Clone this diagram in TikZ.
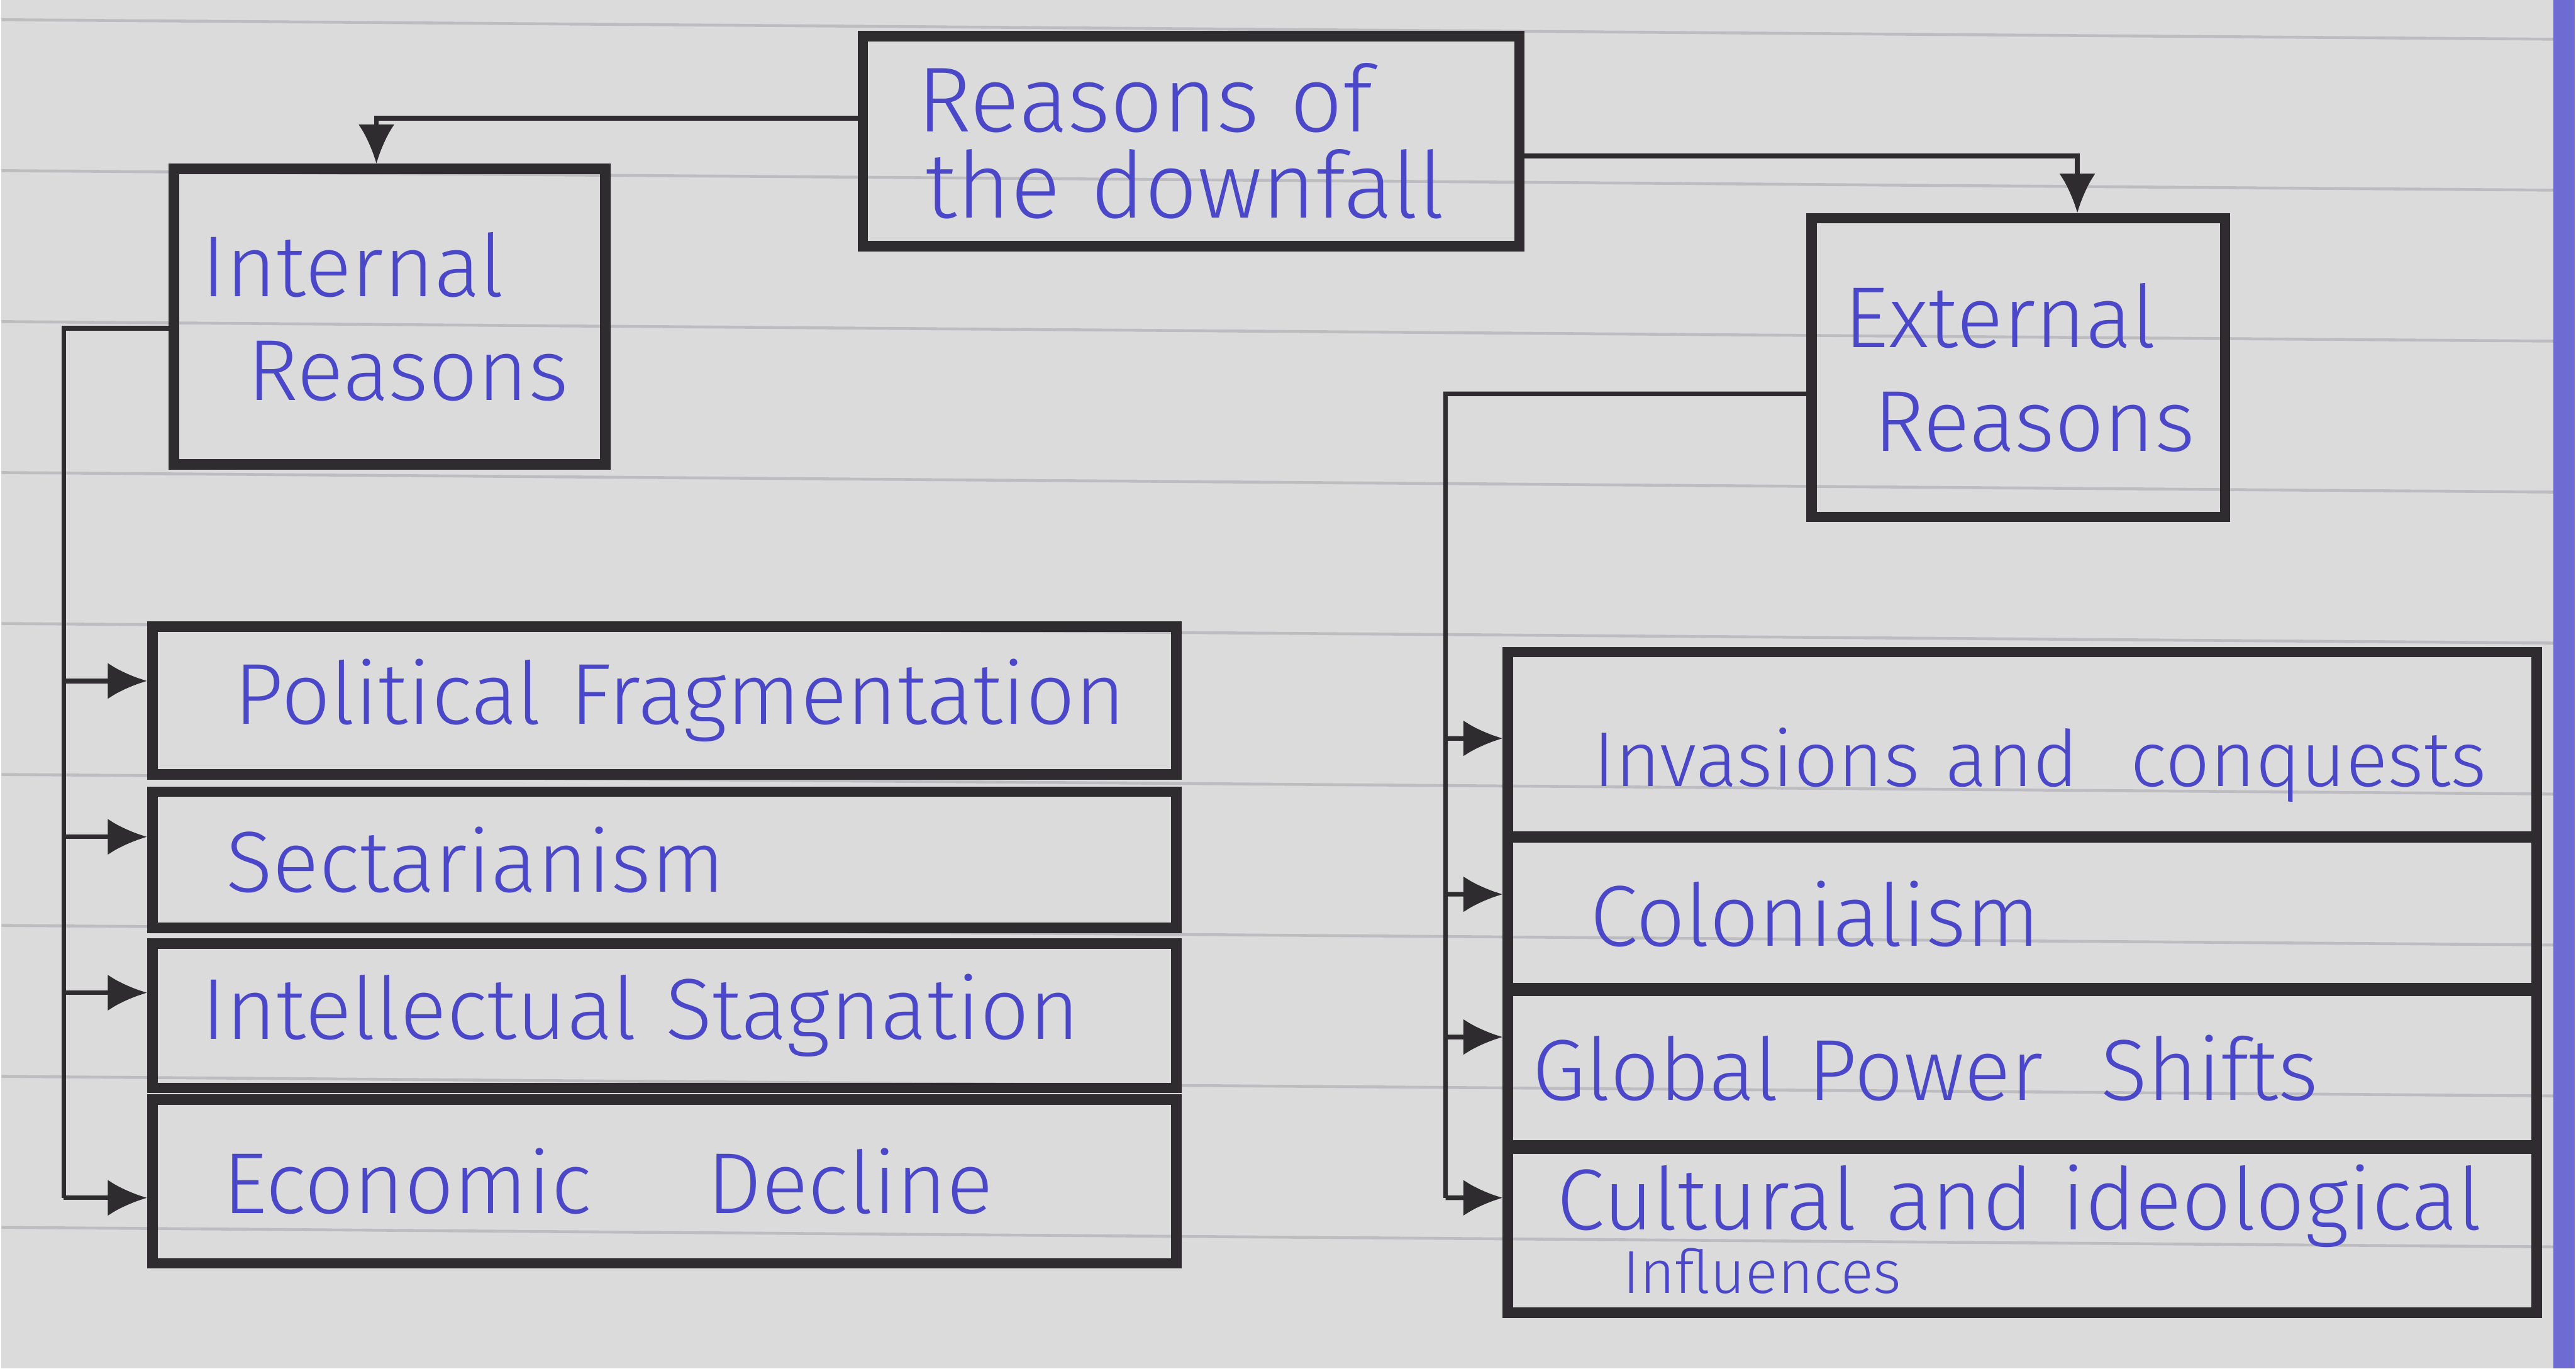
\documentclass[tikz,border=0pt]{standalone}
\usepackage{fontspec}
\setmainfont{Fira Sans Light}
\usetikzlibrary{arrows.meta}
\hyphenpenalty=10000
\exhyphenpenalty=10000

\definecolor{paper}{HTML}{DCDBDC}
\definecolor{rule}{HTML}{BDBCC0}
\definecolor{ink}{HTML}{4A47C8}
\definecolor{marker}{HTML}{2E2C2E}

\tikzset{
  box/.style={draw=marker, line width=1.8pt, inner sep=0pt, text=ink,
    font=\fontsize{15}{17}\selectfont},
  head/.style={box, align=left, font=\fontsize{15}{18}\selectfont},
  item/.style={box, align=left, text width=#1},
  item/.default=6.24cm,
  link/.style={draw=marker, line width=0.8pt},
  tip/.style={link, -{Latex[length=2.4mm,width=2.2mm]}}
}

\begin{document}
\begin{tikzpicture}
  % paper
  \fill[paper] (0,0) rectangle (15.68,8.34);
  \foreach \y in {8.22,7.30,6.38,5.46,4.54,3.62,2.70,1.78,0.86}
    \draw[rule, line width=0.5pt] (0,\y) -- (15.68,\y-0.12);
  \fill[ink!80] (15.55,0) rectangle (15.68,8.34);
  \useasboundingbox (0,0) rectangle (15.68,8.34);

  % headings
  \node[head, text width=4.0cm, minimum height=1.28cm,
    font=\fontsize{16}{15}\selectfont]
    (top) at (7.25,7.48) {\hspace*{0.33cm}Reasons of\\\hspace*{0.38cm}the downfall};
  \node[head, text width=2.63cm, minimum height=1.80cm]
    (int) at (2.365,6.41) {\hspace*{0.17cm}Internal\\\hspace*{0.45cm}Reasons};
  \node[head, text width=2.52cm, minimum height=1.82cm]
    (ext) at (12.29,6.10) {\hspace*{0.2cm}External\\\hspace*{0.38cm}Reasons};

  % internal reasons
  \node[item, minimum height=0.90cm] (pol) at (4.04,4.07) {\hspace*{0.5cm}Political Fragmentation};
  \node[item, minimum height=0.83cm] (sec) at (4.04,3.10) {\hspace*{0.45cm}Sectarianism};
  \node[item, minimum height=0.88cm] (intel) at (4.04,2.15) {\hspace*{0.3cm}Intellectual Stagnation};
  \node[item, minimum height=1.00cm] (eco) at (4.04,1.14) {\hspace*{0.43cm}Economic \quad Decline};

  % external reasons
  \node[item=6.27cm, minimum height=1.13cm, text height=0.6cm,
    font=\fontsize{13.5}{17}\selectfont] (inv) at (12.315,3.80) {\hspace*{0.52cm}Invasions and \ conquests};
  \node[item=6.27cm, minimum height=0.94cm] (col) at (12.315,2.77) {\hspace*{0.5cm}Colonialism};
  \node[item=6.27cm, minimum height=0.98cm] (glo) at (12.315,1.83) {\hspace*{0.15cm}Global Power \ Shifts};
  \node[item=6.27cm, minimum height=1.02cm,
    font=\fontsize{15}{11}\selectfont] (cul) at (12.315,0.85)
    {\hspace*{0.3cm}Cultural and ideological\\\hspace*{0.7cm}{\fontsize{10.5}{11}\selectfont Influences}};

  % top links
  \draw[tip] ([yshift=0.14cm]top.west) -| ([xshift=-0.08cm]int.north);
  \draw[tip] ([yshift=-0.09cm]top.east) -| ([xshift=0.36cm]ext.north);

  % internal spine
  \coordinate (ls) at (0.38,6.34);
  \draw[link] ([yshift=-0.07cm]int.west) -- (ls) -- (ls |- 0,1.04);
  \draw[tip] (ls |- 0,4.19) -- ([yshift=0.12cm]pol.west);
  \draw[tip] (ls |- 0,3.24) -- ([yshift=0.14cm]sec.west);
  \draw[tip] (ls |- 0,2.29) -- ([yshift=0.14cm]intel.west);
  \draw[tip] (ls |- 0,1.04) -- ([yshift=-0.10cm]eco.west);

  % external spine
  \coordinate (rs) at (8.80,5.94);
  \draw[link] ([yshift=-0.16cm]ext.west) -- (rs) -- (rs |- 0,1.04);
  \draw[tip] (rs |- 0,3.84) -- ([yshift=0.04cm]inv.west);
  \draw[tip] (rs |- 0,2.89) -- ([yshift=0.12cm]col.west);
  \draw[tip] (rs |- 0,2.02) -- ([yshift=0.19cm]glo.west);
  \draw[tip] (rs |- 0,1.04) -- ([yshift=0.19cm]cul.west);
\end{tikzpicture}
\end{document}
